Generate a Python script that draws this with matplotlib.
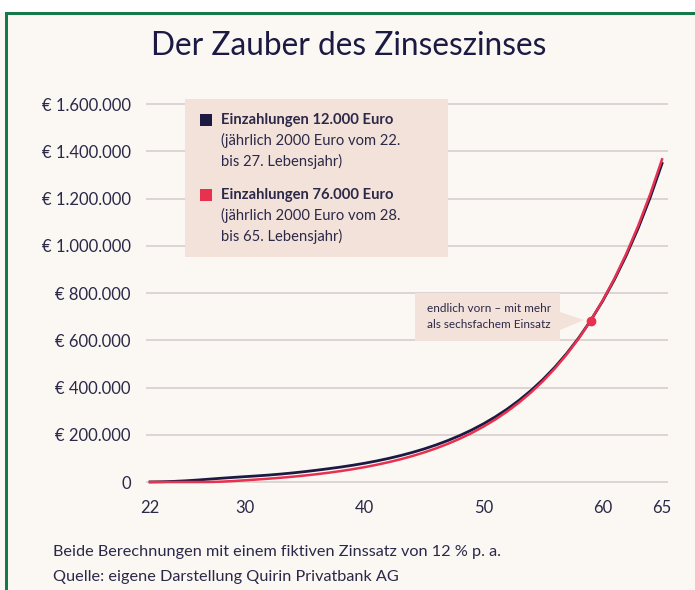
import matplotlib
matplotlib.use("Agg")
from matplotlib import pyplot as plt
from matplotlib.patches import Rectangle, Polygon

# Alter (Lebensjahr)
ages = list(range(22, 66))

# Einzahlungen 12.000 Euro (22. bis 27. Lebensjahr)
early = [300, 1100, 2700, 5200, 8500, 12300, 16000, 19500, 22800, 26000,
         29600, 33800, 38600, 44000, 50000, 56459, 63233, 70821, 79320, 88838,
         99498, 111438, 124811, 139788, 156563, 175350, 196392, 219959, 246354,
         275917, 309027, 346110, 387644, 434162, 486261, 544612, 609965, 683161,
         765140, 856957, 959792, 1074966, 1203962, 1348438]

# Einzahlungen 76.000 Euro (28. bis 65. Lebensjahr)
late = [0, 0, 0, 0, 0, 100, 1500, 4200, 7300, 10706,
        14230, 18178, 22599, 27551, 33097, 39309, 46266, 54058, 62785, 72560,
        83507, 95767, 109499, 124879, 142105, 161397, 183005, 207206, 234310,
        264668, 298668, 336748, 379398, 427166, 480665, 540585, 607695, 682859,
        767042, 861327, 966926, 1085197, 1217661, 1366020]

x_ticks = [22, 30, 40, 50, 60, 65]
y_ticks = [0, 200000, 400000, 600000, 800000, 1000000, 1200000, 1400000, 1600000]
y_labels = ["0", "€ 200.000", "€ 400.000", "€ 600.000", "€ 800.000",
            "€ 1.000.000", "€ 1.200.000", "€ 1.400.000", "€ 1.600.000"]

cross_age = 59
cross_value = 683000

NAVY = "#1c1a42"
RED = "#e8304f"
BG = "#fbf8f4"
BOX = "#f2e2da"
TEXT = "#2b2848"

plt.rcParams["font.family"] = ["Lato", "DejaVu Sans"]

W, H = 695, 590
fig = plt.figure(figsize=(W / 100, H / 100), dpi=100, facecolor=BG)


def px(x, y):
    return x / W, 1 - y / H


# white strip and green frame
fig.add_artist(Rectangle(px(0, 12), 1, 12 / H, transform=fig.transFigure,
                         facecolor="white", edgecolor="none", zorder=0))
fig.add_artist(Rectangle(px(5, 15), 1, 3 / H, transform=fig.transFigure,
                         facecolor="#16794a", edgecolor="none", zorder=5))
fig.add_artist(Rectangle(px(5, 590), 3 / W, (590 - 12) / H, transform=fig.transFigure,
                         facecolor="#16794a", edgecolor="none", zorder=5))

ax = fig.add_axes([146 / W, 0.159, 522 / W, 0.6847])
ax.set_facecolor(BG)
ax.plot(ages, early, color=NAVY, lw=2.0, zorder=3)
ax.plot(ages, late, color=RED, lw=1.8, zorder=4)
ax.plot([cross_age], [cross_value], "o", color=RED, ms=6, zorder=5)

ax.set_xlim(21.66, 65.5)
ax.set_ylim(-60000, 1650000)
ax.set_xticks(x_ticks)
ax.set_yticks(y_ticks)
ax.set_yticklabels(y_labels)
ax.grid(axis="y", color="#d8cdcf", lw=1.2)
ax.set_axisbelow(True)
for s in ax.spines.values():
    s.set_visible(False)
ax.tick_params(length=0, labelsize=12, colors=TEXT)
ax.tick_params(axis="y", pad=11)
ax.tick_params(axis="x", pad=3)

# title
fig.text(*px(349, 46), "Der Zauber des Zinseszinses", ha="center", va="center",
         fontsize=22.8, color=NAVY)

# legend box
fig.add_artist(Rectangle(px(185, 257), 263 / W, 158 / H, transform=fig.transFigure,
                         facecolor=BOX, edgecolor="none", zorder=6))
fig.add_artist(Rectangle(px(200, 126), 12 / W, 12 / H, transform=fig.transFigure,
                         facecolor=NAVY, edgecolor="none", zorder=7))
fig.add_artist(Rectangle(px(200, 201), 12 / W, 12 / H, transform=fig.transFigure,
                         facecolor=RED, edgecolor="none", zorder=7))
legend_lines = [
    (120, "Einzahlungen 12.000 Euro", "bold"),
    (140, "(jährlich 2000 Euro vom 22.", "normal"),
    (161, "bis 27. Lebensjahr)", "normal"),
    (195, "Einzahlungen 76.000 Euro", "bold"),
    (215, "(jährlich 2000 Euro vom 28.", "normal"),
    (236, "bis 65. Lebensjahr)", "normal"),
]
for y, txt, w in legend_lines:
    fig.text(*px(221, y), txt, ha="left", va="center", fontsize=10.6,
             fontweight=w, color=TEXT, zorder=8)

# callout box
fig.add_artist(Polygon([px(415, 293), px(560, 293), px(560, 312), px(584, 320),
                        px(560, 330), px(560, 341), px(415, 341)],
                       closed=True, transform=fig.transFigure,
                       facecolor=BOX, edgecolor="none", zorder=6))
fig.text(*px(489, 309), "endlich vorn – mit mehr", ha="center", va="center",
         fontsize=8.5, color=TEXT, zorder=8)
fig.text(*px(489, 325), "als sechsfachem Einsatz", ha="center", va="center",
         fontsize=8.5, color=TEXT, zorder=8)

# footer
fig.text(*px(53, 552), "Beide Berechnungen mit einem fiktiven Zinssatz von 12 % p. a.",
         ha="left", va="center", fontsize=11.7, color=TEXT)
fig.text(*px(53, 577), "Quelle: eigene Darstellung Quirin Privatbank AG",
         ha="left", va="center", fontsize=11.7, color=TEXT)

fig.savefig("out.png", dpi=100, facecolor=BG)
